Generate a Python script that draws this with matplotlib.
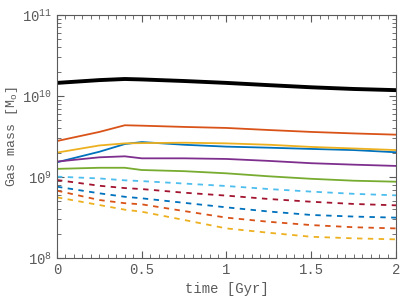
import numpy as np
import matplotlib
matplotlib.use("Agg")
import matplotlib.pyplot as plt

# time axis [Gyr]
t = [0, 0.25, 0.4, 0.5, 0.75, 1.0, 1.25, 1.5, 1.75, 2.0]

# total gas mass (thick black)
total = [1.45e10, 1.57e10, 1.62e10, 1.60e10, 1.53e10, 1.45e10, 1.36e10, 1.28e10, 1.22e10, 1.18e10]

# solid components
c_blue = [1.52e9, 2.05e9, 2.55e9, 2.70e9, 2.50e9, 2.37e9, 2.30e9, 2.22e9, 2.15e9, 2.02e9]
c_orange = [2.78e9, 3.60e9, 4.35e9, 4.30e9, 4.15e9, 4.03e9, 3.80e9, 3.60e9, 3.45e9, 3.33e9]
c_yellow = [2.00e9, 2.45e9, 2.60e9, 2.62e9, 2.65e9, 2.60e9, 2.50e9, 2.35e9, 2.25e9, 2.15e9]
c_purple = [1.55e9, 1.75e9, 1.80e9, 1.70e9, 1.70e9, 1.67e9, 1.58e9, 1.48e9, 1.42e9, 1.37e9]
c_green = [1.26e9, 1.30e9, 1.30e9, 1.22e9, 1.18e9, 1.11e9, 1.02e9, 0.95e9, 0.90e9, 0.875e9]

# dashed components
d_lightblue = [1.01e9, 9.6e8, 9.1e8, 8.9e8, 8.3e8, 7.74e8, 7.1e8, 6.6e8, 6.2e8, 5.94e8]
d_darkred = [9.18e8, 7.8e8, 7.3e8, 7.1e8, 6.4e8, 5.89e8, 5.35e8, 4.95e8, 4.65e8, 4.47e8]
d_blue = [7.59e8, 6.29e8, 5.7e8, 5.46e8, 4.8e8, 4.22e8, 3.75e8, 3.4e8, 3.25e8, 3.15e8]
d_orange = [6.78e8, 5.2e8, 4.75e8, 4.6e8, 3.8e8, 3.15e8, 2.8e8, 2.55e8, 2.4e8, 2.32e8]
d_yellow = [5.61e8, 4.51e8, 3.95e8, 3.73e8, 2.95e8, 2.32e8, 2.05e8, 1.83e8, 1.75e8, 1.70e8]

plt.rcParams['font.family'] = ['Liberation Mono', 'DejaVu Sans']
plt.rcParams['mathtext.fontset'] = 'custom'
plt.rcParams['mathtext.rm'] = 'Liberation Mono'
plt.rcParams['mathtext.it'] = 'Liberation Mono'
plt.rcParams['mathtext.default'] = 'regular'

grey = '#5a5a5a'
fig = plt.figure(figsize=(4.07, 3.05), dpi=100)
ax = fig.add_axes([0.140, 0.154, 0.833, 0.797])

solid = [(c_blue, '#0072BD'), (c_orange, '#D95319'), (c_yellow, '#EDB120'),
         (c_purple, '#7E2F8E'), (c_green, '#77AC30')]
for y, c in solid:
    ax.plot(t, y, color=c, lw=1.3)

dashed = [(d_lightblue, '#4DBEEE'), (d_darkred, '#A2142F'), (d_blue, '#0072BD'),
          (d_orange, '#D95319'), (d_yellow, '#EDB120')]
for y, c in dashed:
    ax.plot(t, y, color=c, lw=1.3, ls=(0, (3, 3)))

ax.plot(t, total, color='k', lw=2.8)

ax.set_yscale('log')
ax.set_xlim(0, 2)
ax.set_ylim(1e8, 1e11)
ax.set_xticks([0, 0.5, 1, 1.5, 2])
ax.set_xticklabels(['0', '0.5', '1', '1.5', '2'])
ax.set_xticks(np.arange(0, 2.01, 0.05), minor=True)

ax.tick_params(which='both', direction='in', top=True, right=True,
               colors=grey, labelsize=10)
ax.tick_params(which='major', length=5, width=0.8)
ax.tick_params(which='minor', length=3, width=0.6)
for s in ax.spines.values():
    s.set_color(grey)

ax.set_xlabel('time [Gyr]', color=grey, fontsize=10)
ax.set_ylabel(r'Gas mass [M$_{o}$]', color=grey, fontsize=9.5)
ax.yaxis.set_label_coords(-0.11, 0.5)

fig.savefig('out.png', dpi=100)
